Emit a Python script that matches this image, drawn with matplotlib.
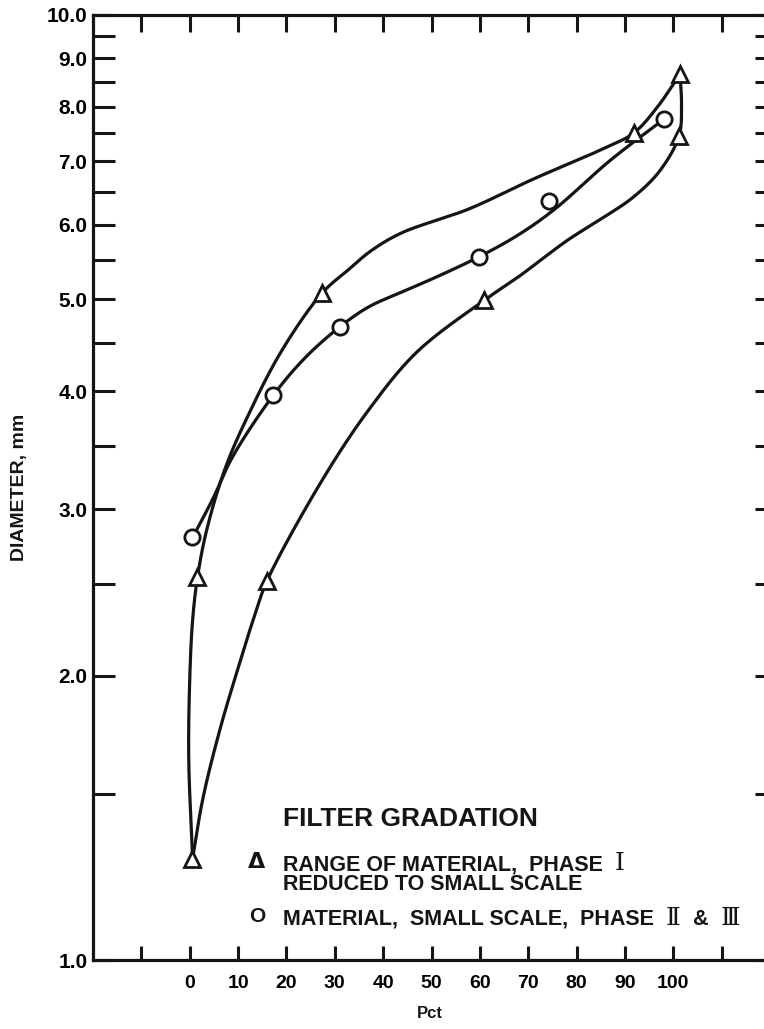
import numpy as np
import matplotlib
matplotlib.use("Agg")
import matplotlib.pyplot as plt
import matplotlib.ticker as mticker

W, H = 764, 1029
INK = "#151515"
plt.rcParams['font.family'] = ['Liberation Sans', 'DejaVu Sans']

# measured points (Pct, diameter mm)
tri_x = [0.5, 1.5, 27.4, 91.8, 101.4, 101.2, 60.9, 16.0]
tri_y = [1.28, 2.54, 5.08, 7.50, 8.66, 7.45, 4.99, 2.52]
circ_x = [0.5, 17.3, 31.1, 59.9, 74.4, 98.1]
circ_y = [2.80, 3.96, 4.68, 5.55, 6.35, 7.76]

# hand-drawn curves
upper_x = [0.6, -0.2, 0.0, 0.6, 1.6, 3.5, 7.4, 12.3, 19.1, 27.4, 32.9, 37.5, 43.8, 57.6, 71.2, 85.0, 91.8, 96.7, 101.4]
upper_y = [1.28, 1.63, 1.98, 2.29, 2.54, 2.85, 3.32, 3.79, 4.42, 5.08, 5.38, 5.63, 5.88, 6.23, 6.71, 7.20, 7.50, 7.99, 8.66]
lower_x = [0.6, 2.7, 6.2, 10.3, 13.6, 16.0, 27.4, 37.0, 47.0, 60.9, 67.9, 78.2, 85.0, 91.8, 97.3, 101.2, 101.7, 101.4]
lower_y = [1.28, 1.48, 1.75, 2.06, 2.33, 2.52, 3.22, 3.82, 4.40, 4.99, 5.28, 5.78, 6.08, 6.42, 6.85, 7.45, 8.03, 8.66]
mid_x = [0.6, 4.7, 8.9, 17.3, 23.9, 31.1, 37.0, 43.8, 50.6, 59.9, 67.9, 75.3, 87.0, 98.1]
mid_y = [2.80, 3.07, 3.41, 3.96, 4.34, 4.68, 4.91, 5.09, 5.27, 5.55, 5.85, 6.22, 7.02, 7.76]

y_ticks = [1.0, 1.5, 2.0, 2.5, 3.0, 3.5, 4.0, 4.5, 5.0, 5.5, 6.0, 6.5, 7.0, 7.5, 8.0, 8.5, 9.0, 9.5, 10.0]
x_ticks = [-10, 0, 10, 20, 30, 40, 50, 60, 70, 80, 90, 100, 110]


def smooth(xs, ys, n=25):
    # centripetal catmull-rom, done in screen-like units (x linear, y log)
    P = np.column_stack([np.asarray(xs) * 4.86, np.log10(ys) * 945])
    P = np.vstack([2 * P[0] - P[1], P, 2 * P[-1] - P[-2]])
    out = []
    for i in range(1, len(P) - 2):
        p0, p1, p2, p3 = P[i - 1], P[i], P[i + 1], P[i + 2]
        t0 = 0.0
        t1 = t0 + np.linalg.norm(p1 - p0) ** 0.5 + 1e-6
        t2 = t1 + np.linalg.norm(p2 - p1) ** 0.5 + 1e-6
        t3 = t2 + np.linalg.norm(p3 - p2) ** 0.5 + 1e-6
        t = np.linspace(t1, t2, n)[:, None]
        a1 = (t1 - t) / (t1 - t0) * p0 + (t - t0) / (t1 - t0) * p1
        a2 = (t2 - t) / (t2 - t1) * p1 + (t - t1) / (t2 - t1) * p2
        a3 = (t3 - t) / (t3 - t2) * p2 + (t - t2) / (t3 - t2) * p3
        b1 = (t2 - t) / (t2 - t0) * a1 + (t - t0) / (t2 - t0) * a2
        b2 = (t3 - t) / (t3 - t1) * a2 + (t - t1) / (t3 - t1) * a3
        c = (t2 - t) / (t2 - t1) * b1 + (t - t1) / (t2 - t1) * b2
        out.append(c)
    c = np.vstack(out)
    return c[:, 0] / 4.86, 10 ** (c[:, 1] / 945)


fig = plt.figure(figsize=(W / 100, H / 100), dpi=100)
ax = fig.add_axes([93 / W, 69 / H, 677 / W, 945 / H])
ax.set_yscale('log')
ax.set_xlim(-20, 120)
ax.set_ylim(1, 10)

for xs, ys in [(upper_x, upper_y), (lower_x, lower_y), (mid_x, mid_y)]:
    sx, sy = smooth(xs, ys)
    ax.plot(sx, sy, color=INK, lw=2.3, solid_capstyle='round', zorder=2)

ax.plot(tri_x, tri_y, ls='none', marker='^', ms=12, mfc='white', mec=INK, mew=2.0, zorder=3)
ax.plot(circ_x, circ_y, ls='none', marker='o', ms=11, mfc='white', mec=INK, mew=2.0, zorder=3)

ax.yaxis.set_major_locator(mticker.FixedLocator(y_ticks))
ax.yaxis.set_minor_locator(mticker.NullLocator())
ax.set_yticklabels(["%.1f" % v if v == int(v) else "" for v in y_ticks])
ax.set_xticks(x_ticks)
ax.set_xticklabels([str(v) if 0 <= v <= 100 else "" for v in x_ticks])

ax.tick_params(axis='y', direction='in', length=15.5, width=2.2, color=INK,
               left=True, right=True, labelsize=15, pad=4)
ax.tick_params(axis='x', direction='in', length=10, width=2.2, color=INK,
               top=True, bottom=True, labelsize=14, pad=11)
for lab in ax.get_yticklabels() + ax.get_xticklabels():
    lab.set_fontweight('bold')
for t in ax.yaxis.get_major_ticks():
    t.tick2line.set_markersize(11)
for t in ax.xaxis.get_major_ticks():
    t.tick2line.set_markersize(12.5)
for s in ax.spines.values():
    s.set_linewidth(2.3)
    s.set_color(INK)

fig.text(20 / W, 1 - 487 / H, "DIAMETER, mm", rotation=90, ha='center', va='center',
         fontsize=14, weight='bold', color=INK)
fig.text(430 / W, 1 - 1013 / H, "Pct", ha='center', va='center',
         fontsize=12, weight='bold', color=INK)

# legend block, typed on the sheet
renderer = fig.canvas.get_renderer()


def run_text(x, y, pieces):
    for s, kw in pieces:
        t = fig.text(x / W, 1 - y / H, s, ha='left', va='baseline', color=INK, **kw)
        x += t.get_window_extent(renderer).width


sans = dict(fontsize=15.5, weight='bold')
roman = dict(fontsize=18, family=['DejaVu Serif', 'Liberation Serif'])
run_text(283, 826, [("FILTER GRADATION", dict(fontsize=19, weight='bold'))])
run_text(283, 870, [("RANGE OF MATERIAL,  PHASE  ", sans), ("\u2160", roman)])
run_text(283, 890, [("REDUCED TO SMALL SCALE", sans)])
run_text(283, 925, [("MATERIAL,  SMALL SCALE,  PHASE  ", sans), ("\u2161", roman),
                    ("  &  ", sans), ("\u2162", roman)])
fig.text(257 / W, 1 - 862 / H, "\u0394", ha='center', va='center', fontsize=16,
         weight='bold', color=INK, family=['DejaVu Sans'])
fig.text(257 / W, 1 - 917 / H, "O", ha='center', va='center', fontsize=15,
         weight='bold', color=INK)

fig.savefig("out.png", dpi=100, facecolor='white')
